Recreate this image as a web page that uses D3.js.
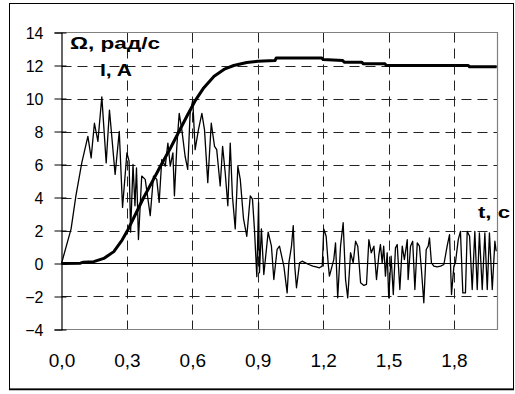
<!DOCTYPE html>
<html><head><meta charset="utf-8">
<script src="https://cdn.jsdelivr.net/npm/d3@7"></script>
<style>
html,body{margin:0;padding:0;background:#fff;}
svg{display:block;font-family:Arial,"Liberation Sans",sans-serif;}
</style></head>
<body><svg id="c" width="515" height="394"></svg>
<script>
// Time axis ticks (s) and Y ticks
const xTicks = [0, 0.3, 0.6, 0.9, 1.2, 1.5, 1.8];
const xTickLabels = ["0,0","0,3","0,6","0,9","1,2","1,5","1,8"];
const yTicks = [-4, -2, 0, 2, 4, 6, 8, 10, 12, 14];

// Current I, A (noisy trace)
const currentT = [0,0.044,0.066,0.093,0.121,0.136,0.151,0.167,0.185,0.205,0.220,0.246,0.265,0.280,0.300,0.310,0.317,0.328,0.337,0.344,0.353,0.368,0.384,0.407,0.422,0.437,0.448,0.460,0.476,0.488,0.499,0.511,0.518,0.529,0.540,0.552,0.567,0.579,0.590,0.602,0.613,0.628,0.644,0.656,0.671,0.687,0.702,0.712,0.728,0.739,0.751,0.763,0.774,0.784,0.797,0.809,0.820,0.835,0.850,0.866,0.876,0.885,0.896,0.904,0.908,0.917,0.928,0.948,0.963,0.974,0.989,1.000,1.020,1.035,1.043,1.055,1.063,1.070,1.078,1.092,1.104,1.119,1.134,1.153,1.168,1.183,1.196,1.203,1.214,1.223,1.229,1.249,1.257,1.267,1.280,1.292,1.303,1.313,1.326,1.338,1.349,1.359,1.372,1.387,1.399,1.410,1.421,1.433,1.445,1.456,1.463,1.471,1.478,1.486,1.494,1.501,1.512,1.522,1.532,1.540,1.552,1.563,1.573,1.586,1.590,1.601,1.611,1.621,1.632,1.642,1.651,1.662,1.673,1.682,1.688,1.697,1.708,1.723,1.739,1.754,1.769,1.780,1.789,1.800,1.807,1.820,1.830,1.841,1.853,1.861,1.872,1.884,1.896,1.907,1.917,1.930,1.942,1.953,1.963,1.976,1.988,1.994];
const currentV = [0,2.1,4.1,6.1,7.7,6.4,8.5,7.4,10.1,6.1,9.3,5.4,8.0,3.4,6.7,6.2,1.9,6.0,3.5,5.8,1.45,5.3,5.1,2.9,5.3,5.1,3.7,6.3,5.9,7.3,5.9,6.7,4.1,7.1,9.1,8.1,6.5,5.7,9.1,9.9,6.9,8.1,9.1,8.1,4.9,8.5,7.1,6.9,4.7,7.1,5.5,3.5,7.3,4.1,2.1,5.9,5.1,2.7,1.65,4.1,3.9,2.1,-0.8,3.7,-0.56,2.1,-0.67,1.9,1.05,-0.97,0.85,1.05,-0.16,-1.78,0.04,1.05,2.3,-0.16,-1.47,0.04,0.14,0.04,-0.06,-0.16,-0.2,-0.26,-0.16,2.1,1.65,0.04,-0.77,0.24,1.25,-2.08,1.05,2.47,-0.97,-2.08,0.65,0.04,1.35,1.05,-1.17,-1.33,-1.27,1.45,0.65,1.05,-0.97,0.54,1.15,0.04,1.05,-0.77,0.65,-2.08,0.44,-1.88,0.95,1.15,-1.58,1.05,0.24,1.45,-0.97,1.05,1.35,-1.58,1.25,1.05,-0.36,-2.38,0.85,1.05,1.55,0.04,-0.16,-0.2,-0.16,-0.06,1.05,1.75,-1.88,-0.16,0.04,1.45,1.95,-1.78,-1.78,1.95,1.65,-1.58,1.95,-1.58,1.85,-1.58,1.85,-1.58,1.85,-1.58,1.35,0.74];

// Speed Omega, rad/s
const speedT = [0,0.087,0.1,0.148,0.194,0.24,0.278,0.304,0.34,0.377,0.418,0.458,0.5,0.539,0.578,0.615,0.65,0.7,0.75,0.79,0.85,0.9,0.98,0.985,1.194,1.2,1.29,1.297,1.377,1.385,1.484,1.49,1.866,1.872,1.996];
const speedV = [0,0.02,0.08,0.11,0.31,0.72,1.42,2.03,3.0,4.0,5.0,6.0,7.0,8.0,9.0,9.9,10.6,11.35,11.8,12.0,12.18,12.26,12.3,12.46,12.46,12.36,12.3,12.2,12.2,12.1,12.1,12.0,12.0,11.92,11.92];

const svg = d3.select("#c");
const x = d3.scaleLinear().domain([0, 2]).range([61.5, 497.5]);
const y = d3.scaleLinear().domain([-4, 14]).range([329.5, 32.5]);

// outer frame
svg.append("rect").attr("x",9.5).attr("y",3.5).attr("width",504).attr("height",385.5)
  .attr("fill","none").attr("stroke","#000").attr("stroke-width",1);
svg.append("line").attr("x1",9).attr("x2",514).attr("y1",389.5).attr("y2",389.5)
  .attr("stroke","#000").attr("stroke-width",1.5);

// horizontal dashed grid
const gh = svg.append("g");
yTicks.filter(v => v !== 0 && v !== -4 && v !== 14).forEach(v => {
  gh.append("line").attr("x1",x(0)).attr("x2",x(2)).attr("y1",Math.round(y(v))+0.5).attr("y2",Math.round(y(v))+0.5)
    .attr("stroke","#222").attr("stroke-width",1).attr("stroke-dasharray","10,6");
});
// vertical dashed grid
xTicks.filter(v => v > 0).forEach(v => {
  gh.append("line").attr("x1",Math.round(x(v))+0.5).attr("x2",Math.round(x(v))+0.5).attr("y1",y(14)).attr("y2",y(-4))
    .attr("stroke","#222").attr("stroke-width",1).attr("stroke-dasharray","10,6");
});

// plot border (gray)
svg.append("path").attr("d",`M${x(0)},${y(14)}H${x(2)}V${y(-4)}H${x(0)}`)
  .attr("fill","none").attr("stroke","#808080").attr("stroke-width",1.2);

// zero line
svg.append("line").attr("x1",x(0)).attr("x2",x(2)).attr("y1",y(0)).attr("y2",y(0))
  .attr("stroke","#000").attr("stroke-width",1);

// Y axis
const yAxis = d3.axisLeft(y).tickValues(yTicks).tickSize(7).tickPadding(11).tickFormat(d3.format("d"));
const ya = svg.append("g").attr("transform",`translate(${x(0)},0)`).call(yAxis);
ya.select(".domain").attr("stroke","#000").attr("stroke-width",1.2);
ya.selectAll(".tick line").attr("stroke","#000").attr("x2",-7).attr("x1",5);
ya.selectAll(".tick text").attr("font-size",16).attr("font-family","Arial, 'Liberation Sans', sans-serif").attr("fill","#000").attr("dy","0.35em").attr("x",-18);

// X axis labels
const xAxis = d3.axisBottom(x).tickValues(xTicks).tickSize(0).tickPadding(0).tickFormat((d,i) => xTickLabels[i]);
const xa = svg.append("g").attr("transform",`translate(0,${y(-4)})`).call(xAxis);
xa.select(".domain").remove();
xa.selectAll(".tick text").attr("font-size",19).attr("font-family","Arial, 'Liberation Sans', sans-serif").attr("fill","#000").attr("y",37).attr("dy",0);

// current line
const cur = currentT.map((t,i) => [t, currentV[i]]);
svg.append("path").datum(cur)
  .attr("d", d3.line().x(d => x(d[0])).y(d => y(d[1])))
  .attr("fill","none").attr("stroke","#000").attr("stroke-width",1.3).attr("stroke-linejoin","round");

// speed line
const spd = speedT.map((t,i) => [t, speedV[i]]);
svg.append("path").datum(spd)
  .attr("d", d3.line().x(d => x(d[0])).y(d => y(d[1])))
  .attr("fill","none").attr("stroke","#000").attr("stroke-width",3).attr("stroke-linejoin","round");

// labels
const lab = (txt, lx, ly, len) => svg.append("text").attr("x",lx).attr("y",ly)
  .attr("font-size",16).attr("font-weight","bold").attr("fill","#000")
  .attr("textLength",len).attr("lengthAdjust","spacingAndGlyphs").text(txt);
lab("Ω, рад/с", 70, 49, 90);
lab("I, A", 100, 76, 32);
lab("t, c", 478, 218, 32);
</script></body></html>
